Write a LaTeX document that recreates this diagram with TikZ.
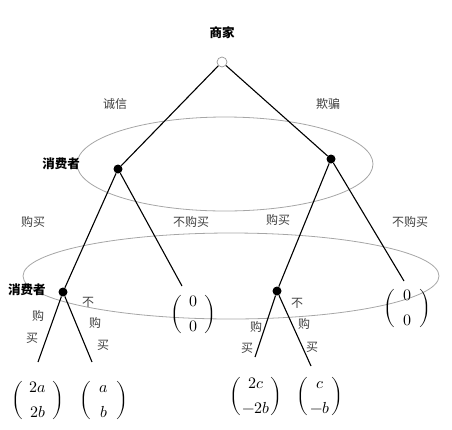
\documentclass[tikz,border=0pt]{standalone}
\usepackage{fontspec}
\usepackage{amsmath}
\usepackage{unicode-math}
\newfontfamily\cjk{Noto Sans CJK SC}
\renewcommand{\arraystretch}{1.35}
\newcommand{\pv}[3]{$\biggl(\begin{array}{@{\hspace{#1pt}}c@{\hspace{#1pt}}}#2\\#3\end{array}\biggr)$}
\begin{document}
\begin{tikzpicture}[x=1pt,y=-1pt,
  dot/.style={circle,fill=black,inner sep=0pt,minimum size=9pt},
  rootnode/.style={circle,draw=black!40,fill=white,inner sep=0pt,minimum size=10pt,line width=0.7pt},
  branch/.style={line width=1.1pt},
  info/.style={draw=black!35,line width=0.8pt},
  lbl/.style={font=\cjk\fontsize{12}{14}\selectfont,text=black!75,inner sep=0pt},
  player/.style={font=\cjk\bfseries\fontsize{12.5}{14}\selectfont,inner sep=0pt},
  pay/.style={font=\fontsize{16}{18}\selectfont,inner sep=0pt}]
\useasboundingbox (0,0) rectangle (452,429);
% information sets
\draw[info] (225,164) ellipse [x radius=148, y radius=47];
\draw[info] (231,276) ellipse [x radius=208, y radius=43];
% decision nodes
\node[rootnode] (r) at (222,62) {};
\node[dot] (l1) at (118,169) {};
\node[dot] (r1) at (331,159) {};
\node[dot] (l2) at (63,292) {};
\node[dot] (r2) at (277,291) {};
% leaf ends
\coordinate (e1) at (182,286);
\coordinate (e2) at (404,281);
\coordinate (e3) at (38,362);
\coordinate (e4) at (92,362);
\coordinate (e5) at (255,357);
\coordinate (e6) at (311,366);
% branches
\draw[branch] (r) -- (l1);
\draw[branch] (r) -- (r1);
\draw[branch] (l1) -- (l2);
\draw[branch] (l1) -- (e1);
\draw[branch] (r1) -- (r2);
\draw[branch] (r1) -- (e2);
\draw[branch] (l2) -- (e3);
\draw[branch] (l2) -- (e4);
\draw[branch] (r2) -- (e5);
\draw[branch] (r2) -- (e6);
% players
\node[player] (pm) at (222,33) {商家};
\node[player] (pc1) at (61,164) {消费者};
\node[player] (pc2) at (27,290) {消费者};
% action labels
\node[lbl] (a1) at (115,104) {诚信};
\node[lbl] (a2) at (328,104) {欺骗};
\node[lbl] (a3) at (33,222) {购买};
\node[lbl] (a4) at (191,222) {不购买};
\node[lbl] (a5) at (278,220) {购买};
\node[lbl] (a6) at (410,222) {不购买};
\node[lbl] (b1) at (38,316) {购};
\node[lbl] (b2) at (32,338) {买};
\node[lbl] (b3) at (88,302) {不};
\node[lbl] (b4) at (95,323) {购};
\node[lbl] (b5) at (103,345) {买};
\node[lbl] (c1) at (256,327) {购};
\node[lbl] (c2) at (247,348) {买};
\node[lbl] (c3) at (297,303) {不};
\node[lbl] (c4) at (304,324) {购};
\node[lbl] (c5) at (312,347) {买};
% payoffs
\node[pay] (p1) at (193,314) {\pv{7}{0}{0}};
\node[pay] (p2) at (407,308) {\pv{8}{0}{0}};
\node[pay] (p3) at (38,400) {\pv{6}{2a}{2b}};
\node[pay] (p4) at (104,400) {\pv{8}{a}{b}};
\node[pay] (p5) at (256,396) {\pv{1}{2c}{-2b}};
\node[pay] (p6) at (320,396) {\pv{2}{c}{-b}};
\end{tikzpicture}
\end{document}
